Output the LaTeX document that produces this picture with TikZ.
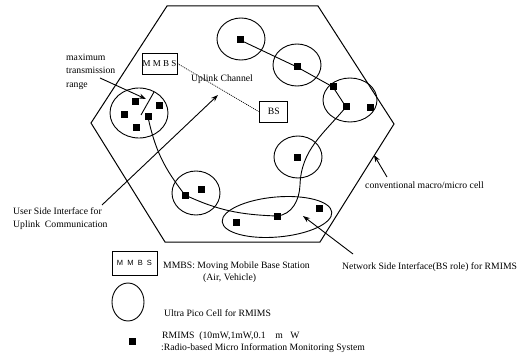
\documentclass[tikz,border=0pt]{standalone}
\usepackage{fontspec}
\setmainfont{Liberation Serif}
\newfontfamily\lgsans{Liberation Sans}
\usetikzlibrary{arrows.meta}
\begin{document}
\begin{tikzpicture}[x=1pt,y=1pt,
  every node/.style={font=\fontsize{9.7}{12.5}\selectfont, inner sep=0pt},
  sq/.style={fill=black, minimum size=7pt, inner sep=0pt},
  cellring/.style={draw, line width=0.9pt},
  link/.style={line width=0.9pt},
  hexline/.style={line width=1pt, line join=miter},
  lbl/.style={anchor=west, align=left},
  pointer/.style={line width=0.9pt, -{Stealth[length=7pt,width=5pt]}},
  boxnode/.style={draw, line width=0.8pt},
  uplink/.style={line width=0.7pt, dash pattern=on 1pt off 1pt}
]
\useasboundingbox (0,0) rectangle (531,-361);

% hexagon (conventional macro/micro cell)
\coordinate (h1) at (91,-123);
\coordinate (h2) at (167,-6);
\coordinate (h3) at (318,-6);
\coordinate (h4) at (394,-124);
\coordinate (h5) at (320,-242);
\coordinate (h6) at (165,-242);
\draw[hexline] (h1) -- (h2) -- (h3) -- (h4) -- (h5) -- (h6) -- cycle;

% ultra pico cells
\draw[cellring] (139,-113) ellipse [x radius=29pt, y radius=25pt];
\draw[cellring] (241,-39) ellipse [x radius=24pt, y radius=21pt];
\draw[cellring] (297,-65) ellipse [x radius=24pt, y radius=21pt];
\draw[cellring] (350,-100) ellipse [x radius=27pt, y radius=22pt];
\draw[cellring] (298,-157) ellipse [x radius=24pt, y radius=21pt];
\draw[cellring] (196,-193) ellipse [x radius=24pt, y radius=22pt];
\draw[cellring, rotate around={5:(277,-217)}] (277,-217) ellipse [x radius=55pt, y radius=20pt];

% RMIMS terminals
\node[sq] (c1) at (135,-102) {};
\node[sq] (c2) at (159,-106) {};
\node[sq] (c3) at (124,-115) {};
\node[sq] (c4) at (148,-117) {};
\node[sq] (c5) at (136,-128) {};
\node[sq] (s1) at (240,-40) {};
\node[sq] (s2) at (297,-67) {};
\node[sq] (s3) at (333,-87) {};
\node[sq] (s4) at (346,-107) {};
\node[sq] (s5) at (370,-108) {};
\node[sq] (s6) at (297,-158) {};
\node[sq] (s7) at (277,-216) {};
\node[sq] (s8) at (236,-222) {};
\node[sq] (s9) at (319,-208) {};
\node[sq] (s10) at (185,-195) {};
\node[sq] (s11) at (201,-189) {};

% multihop links
\coordinate (k1) at (300,-185);
\draw[link] (s1.center) -- (s2.center) -- (s3.center) -- (s4.center);
\draw[link] (s4.center) to[out=230,in=88] (k1) to[out=268,in=5] (s7.center);
\draw[link] (s7.center) to[out=178,in=-25] (s10.center);
\draw[link] (s10.center) to[out=128,in=-78] (c4.center);

% maximum transmission range radius
\coordinate (rad0) at (141,-115);
\coordinate (rad1) at (154,-92);
\draw[link] (rad0) -- (rad1);

% MMBS and BS
\node[boxnode, minimum width=35pt, minimum height=21pt, font=\fontsize{9}{11}\selectfont] (mmbs) at (159.5,-63.5) {M M B S};
\node[boxnode, minimum width=28pt, minimum height=21pt] (bs) at (273,-111.5) {\raisebox{-3pt}{\,BS}};
\draw[uplink] (mmbs.east) -- (bs.west);
\node[lbl] (uplab) at (191,-79) {Uplink Channel};

% labels and pointers
\node[lbl, font=\fontsize{9.7}{13.5}\selectfont] (maxlab) at (66,-71.5) {maximum\\transmission\\range};
\coordinate (maxtail) at (100,-78);
\coordinate (maxtip) at (146,-99);
\draw[pointer] (maxtail) -- (maxtip);

\node[lbl] (userlab) at (13,-218.5) {User Side Interface for\\Uplink\ \ Communication};
\coordinate (usertail) at (102,-205);
\coordinate (usertip) at (218,-95);
\draw[pointer] (usertail) -- (usertip);

\node[lbl] (convlab) at (365,-185) {conventional macro/micro cell};
\coordinate (convtail) at (387,-177);
\coordinate (convtip) at (374,-155);
\draw[pointer] (convtail) -- (convtip);

\node[lbl] (netlab) at (342,-267) {Network Side Interface(BS role) for RMIMS};
\coordinate (nettail) at (353,-254);
\coordinate (nettip) at (303,-216);
\draw[pointer] (nettail) -- (nettip);

% legend
\node[boxnode, minimum width=45pt, minimum height=24pt, font=\lgsans\fontsize{7.5}{9}\selectfont] (lgbox) at (134.5,-263) {M\ \ M\ \ B\ \ S};
\node[lbl] (lgboxtxt) at (163,-266) {MMBS: Moving Mobile Base Station};
\node[lbl] (lgboxtxt2) at (203,-278) {(Air, Vehicle)};
\draw[cellring] (128,-302) ellipse [x radius=16pt, y radius=19pt];
\node[lbl] (lgcelltxt) at (164,-313) {Ultra Pico Cell for RMIMS};
\node[sq] (lgsq) at (132,-341) {};
\node[lbl] (lgsqtxt) at (162,-336) {RMIMS\ \ (10mW,1mW,0.1\ \ \ \ m\ \ \ W};
\node[lbl] (lgsqtxt2) at (161,-348) {:Radio-based Micro Information Monitoring System};
\end{tikzpicture}
\end{document}
